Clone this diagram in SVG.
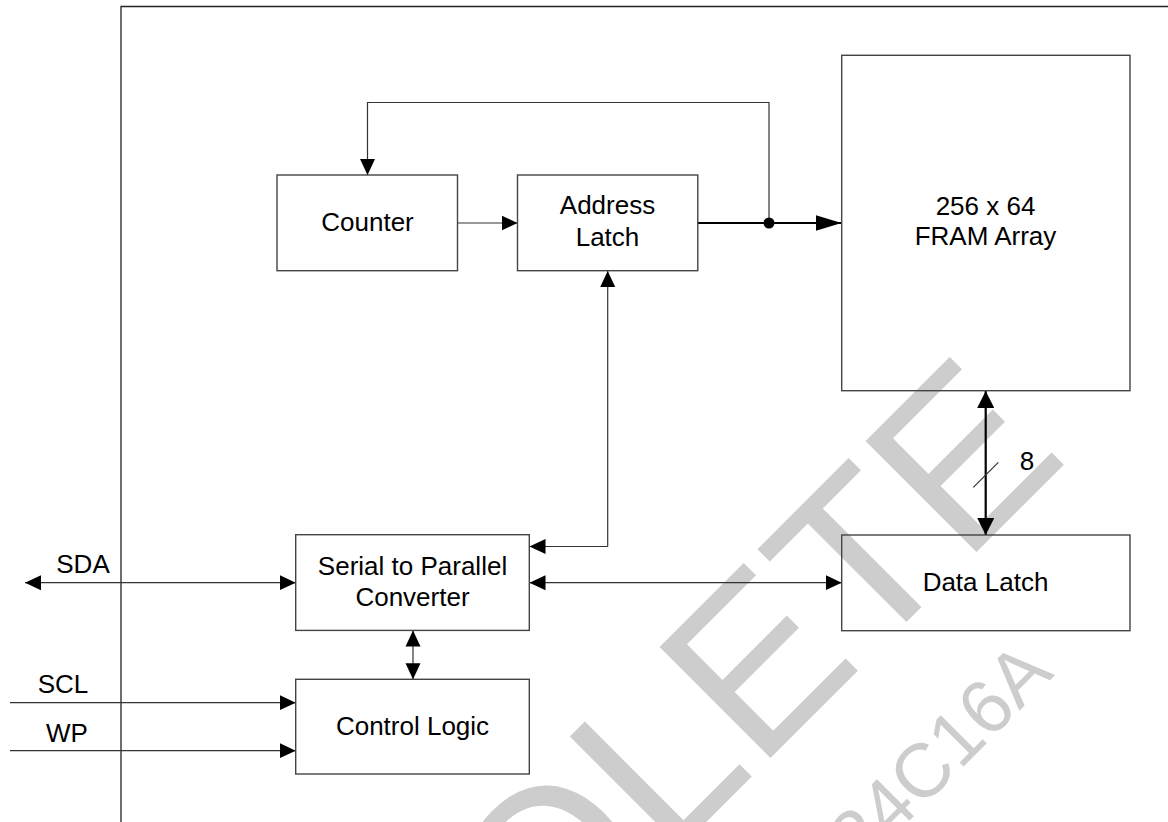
<svg xmlns="http://www.w3.org/2000/svg" width="1168" height="822" viewBox="0 0 1168 822">
<defs>
<style>
.box{fill:none;stroke:#444;stroke-width:1.4}
.frame{fill:none;stroke:#222;stroke-width:1.3}
.wire{fill:none;stroke:#333;stroke-width:1.2}
.bus{fill:none;stroke:#000;stroke-width:2.2}
.lbl{font-family:"Liberation Sans",Arial,sans-serif;font-size:26px;fill:#000;text-anchor:middle}
.wm{font-family:"Liberation Sans",Arial,sans-serif;fill:#cdcdcd}
</style>
<marker id="a" markerUnits="userSpaceOnUse" viewBox="0 0 16 16" refX="16" refY="8" markerWidth="16" markerHeight="16" orient="auto-start-reverse"><path d="M0,0.5 L16,8 L0,15.5 z" fill="#000"/></marker>
<marker id="big" markerUnits="userSpaceOnUse" viewBox="0 0 26 18" refX="26" refY="9" markerWidth="26" markerHeight="18" orient="auto-start-reverse"><path d="M0,1 L26,9 L0,17 z" fill="#000"/></marker>
<marker id="b" markerUnits="userSpaceOnUse" viewBox="0 0 17 17" refX="17" refY="8.5" markerWidth="17" markerHeight="17" orient="auto-start-reverse"><path d="M0,0 L17,8.5 L0,17 z" fill="#000"/></marker>
</defs>
<rect width="1168" height="822" fill="#fff"/>
<g id="watermark">
<text class="wm" font-size="228" transform="translate(201.6,1326.7) rotate(-45)">OBSOLETE</text>
<text class="wm" font-size="76" transform="translate(783.3,946.7) rotate(-45)">FM24C16A</text>
</g>
<g id="frame">
<path class="frame" d="M121,822 L121,6.5 L1168,6.5"/>
</g>
<g id="connectors">
<path class="wire" d="M769,223 L769,102.5 L367.5,102.5 L367.5,175" marker-end="url(#a)"/>
<path class="wire" d="M457.5,223 L517.5,223" marker-end="url(#a)"/>
<path class="bus" d="M697.5,223 L841.5,223" marker-end="url(#big)"/>
<circle cx="769" cy="223" r="5.5" fill="#000"/>
<path class="bus" d="M985.7,391 L985.7,535" marker-start="url(#b)" marker-end="url(#b)"/>
<path class="wire" d="M973.3,487.3 L998.3,462.3"/>
<path class="wire" d="M607.7,546.5 L607.7,271" marker-end="url(#a)"/>
<path class="wire" d="M607.7,546.5 L529.5,546.5" marker-end="url(#a)"/>
<path class="wire" d="M529.5,582.7 L841.7,582.7" marker-start="url(#a)" marker-end="url(#a)"/>
<path class="wire" d="M25,582.7 L295.7,582.7" marker-start="url(#a)" marker-end="url(#a)"/>
<path class="wire" d="M413,630.5 L413,679.3" marker-start="url(#a)" marker-end="url(#a)"/>
<path class="wire" d="M10,702.7 L295.7,702.7" marker-end="url(#a)"/>
<path class="wire" d="M10,750.7 L295.7,750.7" marker-end="url(#a)"/>
</g>
<g id="counter">
<rect class="box" x="277" y="175" width="180.5" height="95.7"/>
<text class="lbl" x="367.5" y="231">Counter</text>
</g>
<g id="address-latch">
<rect class="box" x="517.5" y="175" width="180.3" height="95.7"/>
<text class="lbl" x="607.5" y="214">Address</text>
<text class="lbl" x="607.5" y="246">Latch</text>
</g>
<g id="fram-array">
<rect class="box" x="841.7" y="55.3" width="288.3" height="335.4"/>
<text class="lbl" x="985.5" y="215">256 x 64</text>
<text class="lbl" x="985.5" y="245">FRAM Array</text>
</g>
<g id="bus-width">
<text class="lbl" x="1027" y="469.5">8</text>
</g>
<g id="data-latch">
<rect class="box" x="841.7" y="535" width="288.3" height="95.7"/>
<text class="lbl" x="985.5" y="590.7">Data Latch</text>
</g>
<g id="serial-to-parallel">
<rect class="box" x="295.7" y="534.7" width="233.6" height="95.7"/>
<text class="lbl" x="412.5" y="575">Serial to Parallel</text>
<text class="lbl" x="412.5" y="606">Converter</text>
</g>
<g id="control-logic">
<rect class="box" x="295.7" y="679.3" width="233.6" height="94.7"/>
<text class="lbl" x="412.5" y="735">Control Logic</text>
</g>
<g id="pins">
<text class="lbl" x="83" y="572.7">SDA</text>
<text class="lbl" x="63" y="692.7">SCL</text>
<text class="lbl" x="67" y="741.7">WP</text>
</g>
</svg>
